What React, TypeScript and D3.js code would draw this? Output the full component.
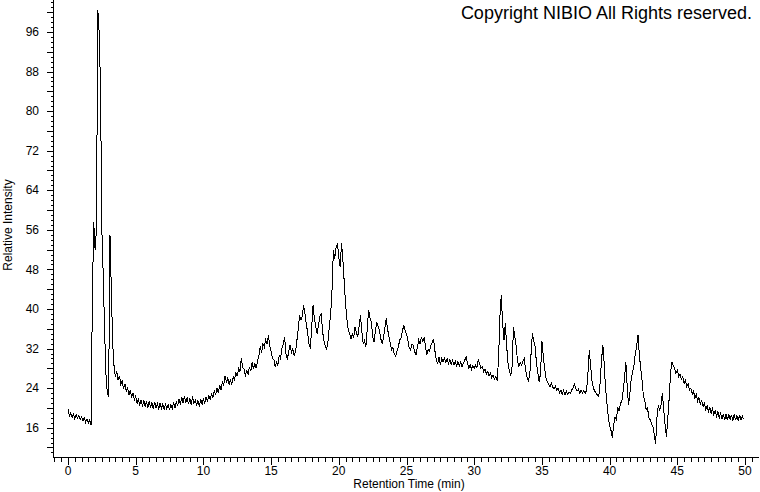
import React from "react";
import * as d3 from "d3";

const WIDTH = 760;
const HEIGHT = 492;

// Sampling grid of the trace (minutes)
const timeStart = 0;
const timeStep = 0.1;

// Relative intensity, one row per minute (10 samples per minute)
const intensity: number[] = [
  19.8, 18.3, 19.0, 18.1, 18.7, 17.8, 18.6, 18.0, 18.5, 17.7, // 0
  18.2, 17.4, 18.0, 17.1, 17.8, 16.9, 17.6, 16.6, 42.0, 57.5, // 1
  52.0, 56.0, 100.5, 96.0, 85.0, 56.0, 47.0, 36.0, 27.0, 23.0, // 2
  22.3, 55.0, 44.0, 33.0, 28.5, 26.3, 27.4, 25.6, 26.5, 24.8, // 3
  25.5, 23.9, 24.9, 23.3, 24.2, 22.6, 23.6, 22.1, 23.0, 21.6, // 4
  22.4, 20.9, 21.9, 20.5, 21.6, 20.3, 21.5, 20.2, 21.3, 20.0, // 5
  21.4, 20.1, 21.1, 19.8, 21.2, 20.0, 20.9, 19.7, 21.0, 19.9, // 6
  20.8, 19.6, 20.9, 19.8, 20.6, 19.5, 20.7, 19.9, 21.1, 20.0, // 7
  21.3, 20.4, 21.8, 20.7, 22.2, 21.0, 22.4, 21.1, 22.0, 20.8, // 8
  21.9, 20.6, 22.3, 20.9, 21.6, 20.4, 21.5, 20.3, 21.8, 20.7, // 9
  21.9, 20.9, 22.2, 21.3, 22.6, 21.6, 23.0, 22.1, 23.5, 22.6, // 10
  24.0, 23.1, 24.6, 23.7, 25.3, 24.6, 26.5, 25.2, 26.0, 24.8, // 11
  25.6, 24.8, 26.3, 25.7, 27.2, 26.4, 28.0, 27.4, 30.0, 28.2, // 12
  27.8, 26.6, 27.5, 26.8, 28.3, 27.4, 29.2, 27.9, 29.0, 28.0, // 13
  29.5, 30.5, 32.4, 31.2, 33.0, 32.3, 33.8, 33.0, 34.7, 32.6, // 14
  31.5, 30.0, 29.8, 28.4, 29.2, 28.6, 30.7, 30.0, 32.0, 33.0, // 15
  34.3, 31.0, 29.7, 31.5, 32.7, 31.2, 32.0, 30.6, 31.3, 33.5, // 16
  35.8, 38.8, 37.8, 38.6, 40.8, 39.0, 37.0, 35.2, 33.0, 32.0, // 17
  36.5, 40.8, 38.0, 36.4, 35.0, 36.8, 38.5, 39.1, 35.5, 33.6, // 18
  32.5, 31.7, 33.5, 36.5, 39.0, 43.8, 51.9, 50.2, 52.4, 53.3, // 19
  50.5, 48.5, 53.3, 50.0, 45.5, 41.0, 37.8, 35.8, 35.0, 34.0, // 20
  35.0, 34.2, 36.4, 35.2, 34.4, 36.5, 38.8, 35.5, 33.0, 33.6, // 21
  32.4, 36.0, 39.8, 38.2, 37.5, 34.5, 33.4, 35.5, 37.4, 36.5, // 22
  35.8, 34.0, 33.0, 34.2, 36.0, 38.1, 36.0, 34.4, 33.0, 31.7, // 23
  32.2, 30.9, 30.4, 31.5, 32.4, 33.7, 34.2, 35.5, 36.8, 35.6, // 24
  35.0, 33.6, 32.2, 31.7, 32.9, 32.7, 31.4, 30.7, 32.2, 33.7, // 25
  33.0, 34.4, 33.5, 34.2, 32.5, 30.7, 31.8, 31.5, 32.6, 33.2, // 26
  34.0, 31.5, 29.7, 29.0, 30.2, 28.7, 30.0, 29.3, 30.1, 29.2, // 27
  30.0, 29.0, 29.8, 28.8, 29.6, 28.7, 29.5, 28.5, 29.4, 28.4, // 28
  29.3, 28.3, 29.1, 29.6, 30.4, 29.2, 28.0, 28.8, 27.8, 28.6, // 29
  27.9, 28.7, 28.2, 29.7, 28.9, 28.0, 28.3, 27.3, 27.8, 26.9, // 30
  27.4, 26.5, 27.0, 26.1, 26.6, 25.8, 26.3, 25.5, 30.0, 38.4, // 31
  42.8, 37.0, 33.7, 37.1, 32.4, 29.0, 27.5, 26.5, 28.5, 36.4, // 32
  34.5, 32.4, 29.5, 28.3, 29.2, 28.6, 29.5, 30.0, 27.5, 26.3, // 33
  25.5, 26.5, 31.0, 35.1, 33.5, 32.4, 29.0, 27.0, 25.3, 27.0, // 34
  33.5, 30.5, 28.0, 26.0, 25.2, 24.8, 24.3, 25.0, 24.2, 23.9, // 35
  24.4, 23.5, 24.0, 23.0, 23.6, 22.8, 23.5, 22.6, 23.4, 22.8, // 36
  23.2, 22.9, 23.6, 24.0, 24.8, 24.0, 23.4, 23.8, 23.0, 23.6, // 37
  23.0, 23.5, 22.9, 23.6, 27.0, 31.7, 28.5, 25.5, 24.0, 23.4, // 38
  23.0, 22.6, 22.3, 25.0, 29.5, 32.8, 29.0, 24.0, 21.0, 18.2, // 39
  16.5, 15.5, 13.9, 16.5, 18.2, 17.6, 20.2, 19.3, 21.0, 21.3, // 40
  23.5, 26.0, 29.3, 24.3, 20.6, 23.0, 26.0, 27.2, 28.5, 31.0, // 41
  32.5, 34.7, 30.6, 28.0, 25.5, 22.3, 21.5, 19.6, 20.0, 18.0, // 42
  17.6, 16.8, 16.2, 14.5, 12.8, 18.2, 20.6, 19.5, 20.6, 23.0, // 43
  19.6, 16.5, 14.2, 18.0, 22.0, 27.0, 29.3, 28.5, 28.0, 27.0, // 44
  27.6, 26.4, 26.9, 25.8, 26.3, 24.9, 25.6, 24.3, 24.9, 23.6, // 45
  24.0, 22.8, 23.4, 22.0, 22.8, 21.4, 22.1, 20.8, 21.5, 20.3, // 46
  20.9, 19.7, 20.5, 19.3, 20.1, 18.9, 19.8, 18.6, 19.5, 18.4, // 47
  19.2, 18.0, 18.9, 17.7, 18.8, 17.6, 18.7, 17.5, 18.7, 17.6, // 48
  18.6, 17.4, 18.7, 17.5, 18.5, 17.3, 18.6, 17.6, 18.4, 17.7, // 49
];

const xTickLabels = [0, 5, 10, 15, 20, 25, 30, 35, 40, 45, 50];
const yTickLabels = [16, 24, 32, 40, 48, 56, 64, 72, 80, 88, 96];
const xAxisTitle = "Retention Time (min)";
const yAxisTitle = "Relative Intensity";
const copyrightText = "Copyright NIBIO All Rights reserved.";

const FONT = "'Liberation Sans', Arial, sans-serif";

export default function App() {
  const x = d3.scaleLinear().domain([0, 50]).range([68, 745]);
  const y = d3.scaleLinear().domain([16, 96]).range([427.7, 32]);

  const axisY = 457.5; // x-axis line position
  const axisX = 53.5; // y-axis line position

  const points: [number, number][] = intensity.map((v, i) => [
    timeStart + i * timeStep,
    v,
  ]);
  const path = d3
    .line<[number, number]>()
    .x((d) => x(d[0]))
    .y((d) => y(d[1]))(points);

  const xMinor = d3.range(-2, 103).map((i) => i * 0.5);
  const yMinor = d3.range(11, 103);

  return (
    <svg
      width={WIDTH}
      height={HEIGHT}
      style={{ position: "absolute", left: 0, top: 0, background: "#fff" }}
      fontFamily={FONT}
    >
      <rect x={0} y={0} width={WIDTH} height={HEIGHT} fill="#fff" />
      {/* y axis */}
      <line x1={axisX} x2={axisX} y1={0} y2={axisY} stroke="#000" shapeRendering="crispEdges" />
      {yMinor.map((v) => {
        const len = v % 4 === 0 ? 7 : 3;
        const yy = Math.round(y(v)) + 0.5;
        return (
          <line
            key={"ym" + v}
            x1={axisX - len}
            x2={axisX}
            y1={yy}
            y2={yy}
            stroke="#000"
            shapeRendering="crispEdges"
          />
        );
      })}
      {yTickLabels.map((v) => (
        <text
          key={"yl" + v}
          x={39}
          y={y(v)}
          dy="0.35em"
          textAnchor="end"
          fontSize={12}
          fill="#000"
        >
          {v}
        </text>
      ))}
      {/* x axis */}
      <line x1={axisX} x2={759} y1={axisY} y2={axisY} stroke="#000" shapeRendering="crispEdges" />
      {xMinor.map((t) => {
        const len = Math.abs(t % 5) < 1e-9 ? 7 : 4;
        const xx = Math.round(x(t)) + 0.5;
        if (xx < axisX || xx > 759) return null;
        return (
          <line
            key={"xm" + t}
            x1={xx}
            x2={xx}
            y1={axisY}
            y2={axisY + len}
            stroke="#000"
            shapeRendering="crispEdges"
          />
        );
      })}
      {xTickLabels.map((t) => (
        <text
          key={"xl" + t}
          x={x(t)}
          y={475}
          textAnchor="middle"
          fontSize={12}
          fill="#000"
        >
          {t}
        </text>
      ))}
      <text x={409} y={488} textAnchor="middle" fontSize={12} fill="#000">
        {xAxisTitle}
      </text>
      <text
        transform={`translate(12,225) rotate(-90)`}
        textAnchor="middle"
        fontSize={12}
        fill="#000"
      >
        {yAxisTitle}
      </text>
      <text x={752} y={19} textAnchor="end" fontSize={18} fill="#000">
        {copyrightText}
      </text>
      {/* chromatogram trace */}
      <path
        d={path ?? ""}
        fill="none"
        stroke="#000"
        strokeWidth={1}
        shapeRendering="crispEdges"
      />
    </svg>
  );
}
